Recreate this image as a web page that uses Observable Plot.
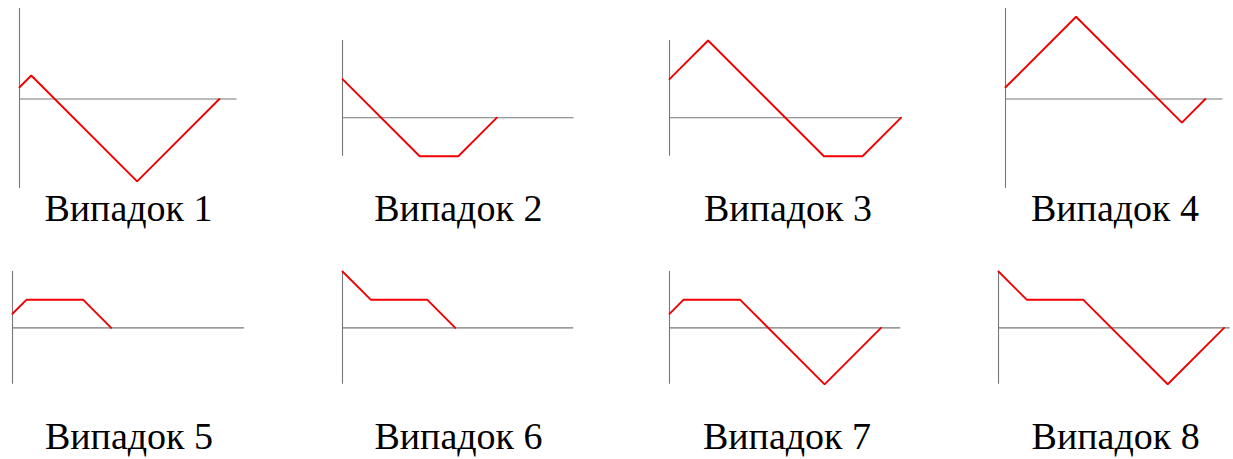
<!DOCTYPE html>
<html>
<head>
<meta charset="utf-8">
<script src="https://cdn.jsdelivr.net/npm/d3@7"></script>
<script src="https://cdn.jsdelivr.net/npm/@observablehq/plot@0.6"></script>
<style>
  html, body { margin: 0; padding: 0; background: #fff; }
  #wrap { position: relative; width: 1233px; height: 459px; overflow: hidden; background: #fff; }
  #wrap > svg { position: absolute; }
</style>
</head>
<body>
<div id="wrap"></div>
<script>
// ---- data ----
const labels = ["Випадок 1", "Випадок 2", "Випадок 3", "Випадок 4",
                "Випадок 5", "Випадок 6", "Випадок 7", "Випадок 8"];
const caseX = [
  [0, 1, 10, 17],
  [0, 2, 3, 4],
  [0, 1, 4, 5, 6],
  [0, 6, 15, 17],
  [0, 1, 5, 7],
  [0, 2, 6, 8],
  [0, 1, 5, 11, 15],
  [0, 2, 6, 12, 16]
];
const caseY = [
  [1, 2, -7, 0],
  [1, -1, -1, 0],
  [1, 2, -1, -1, 0],
  [1, 7, -2, 0],
  [1, 2, 2, 0],
  [4, 2, 2, 0],
  [1, 2, 2, -4, 0],
  [4, 2, 2, -4, 0]
];
const axisXMax = [18.5, 6, 6, 18.5, 16.45, 16.4, 16.4, 16.43];
const axisYMin = [-7.6, -1, -1, -7.6, -4, -4, -4, -4];
const axisYMax = [7.7, 2, 2, 7.7, 4, 4, 4, 4];

// ---- layout (pixels) ----
const origins = [[19, 98.7], [341.7, 117.3], [669.3, 117.3], [1005, 98.7],
                 [12.3, 327.7], [341.7, 327.7], [669.3, 327.7], [998.3, 327.7]];
const unitPx = [11.76, 38.6, 38.6, 11.76, 14.1, 14.1, 14.1, 14.1];
const labelCx = [128.5, 458.3, 788, 1115, 129, 458.5, 787, 1115.7];
const labelBase = [220.5, 220.5, 220.5, 220.5, 449, 449, 449, 449];
const m = 4;

const wrap = document.getElementById("wrap");

labels.forEach((lab, i) => {
  const u = unitPx[i];
  const w = axisXMax[i] * u + 2 * m;
  const h = (axisYMax[i] - axisYMin[i]) * u + 2 * m;
  const pts = caseX[i].map((x, k) => ({x, y: caseY[i][k]}));
  const chart = Plot.plot({
    width: w,
    height: h,
    margin: m,
    x: {domain: [0, axisXMax[i]], axis: null},
    y: {domain: [axisYMin[i], axisYMax[i]], axis: null},
    style: {background: "transparent", overflow: "visible"},
    marks: [
      Plot.ruleY([0], {x1: 0, x2: axisXMax[i], stroke: "#777777", strokeWidth: 1.1}),
      Plot.ruleX([0], {y1: axisYMin[i], y2: axisYMax[i], stroke: "#777777", strokeWidth: 1.1}),
      Plot.line(pts, {x: "x", y: "y", stroke: "#f00000", strokeWidth: 1.9, strokeLinejoin: "miter"})
    ]
  });
  chart.style.left = (origins[i][0] - m) + "px";
  chart.style.top = (origins[i][1] - axisYMax[i] * u - m) + "px";
  wrap.appendChild(chart);
});

// labels
const overlay = d3.select(wrap).append("svg")
  .attr("width", 1233).attr("height", 459)
  .style("left", "0px").style("top", "0px");
overlay.selectAll("text").data(labels).join("text")
  .attr("x", (d, i) => labelCx[i])
  .attr("y", (d, i) => labelBase[i])
  .attr("text-anchor", "middle")
  .attr("font-family", "'Liberation Serif', 'DejaVu Serif', serif")
  .attr("font-size", 38)
  .attr("fill", "#000")
  .text(d => d);
</script>
</body>
</html>
